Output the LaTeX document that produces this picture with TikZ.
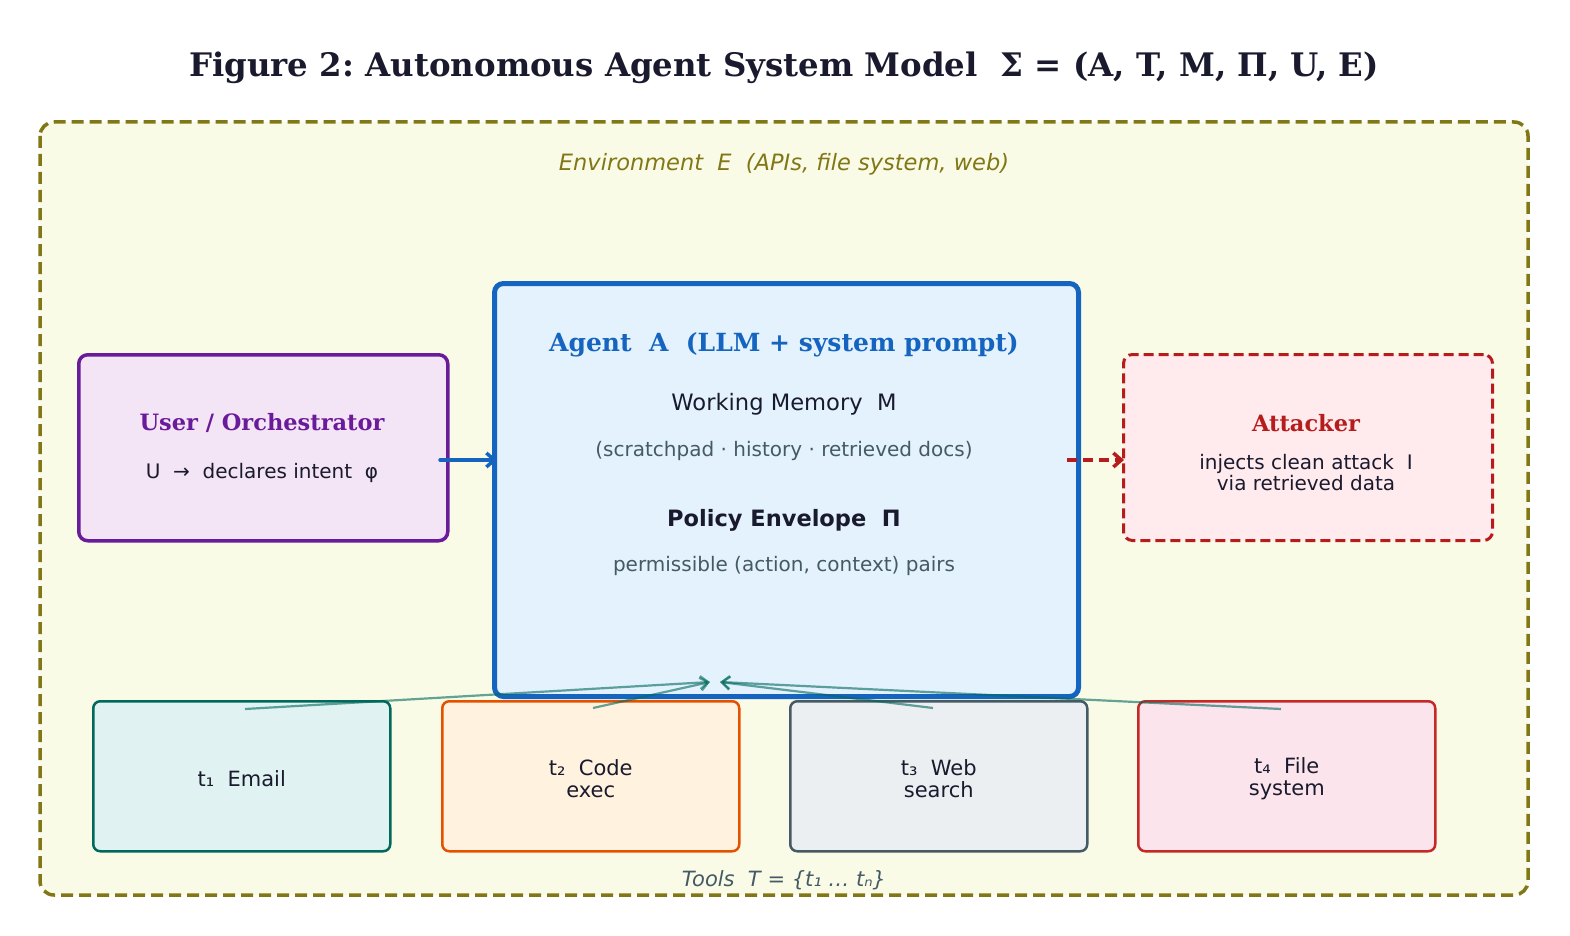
\documentclass[tikz,border=0pt]{standalone}
\usepackage{fontspec}
\setmainfont{DejaVu Serif}
\setsansfont{DejaVu Sans}
\usetikzlibrary{arrows.meta}
\frenchspacing
\definecolor{ink}{HTML}{1A1A2E}
\definecolor{envline}{HTML}{827717}
\definecolor{envfill}{HTML}{F9FBE7}
\definecolor{agline}{HTML}{1565C0}
\definecolor{agfill}{HTML}{E3F2FD}
\definecolor{usline}{HTML}{6A1B9A}
\definecolor{usfill}{HTML}{F3E5F5}
\definecolor{atline}{HTML}{B71C1C}
\definecolor{atfill}{HTML}{FFEBEE}
\definecolor{grey}{HTML}{455A64}
\definecolor{teal}{HTML}{00695C}
\definecolor{tAfill}{HTML}{E0F2F1}
\definecolor{tBline}{HTML}{E65100}
\definecolor{tBfill}{HTML}{FFF3E0}
\definecolor{tCfill}{HTML}{ECEFF1}
\definecolor{tDline}{HTML}{C62828}
\definecolor{tDfill}{HTML}{FCE4EC}
\tikzset{
  boxbase/.style={rounded corners=9pt, inner sep=0pt, anchor=north west},
  toolbox/.style={boxbase, line width=2.5pt, minimum width=297pt, minimum height=150pt, rounded corners=7pt},
  tooltext/.style={font=\sffamily\fontsize{21}{22}\selectfont, text=ink, align=center},
  toolarrow/.style={draw=teal, draw opacity=0.6, line width=2.2pt, -{Straight Barb[length=8pt,width=13pt,line width=2.2pt]}},
}
\begin{document}
\begin{tikzpicture}[x=1pt,y=-1pt]
\useasboundingbox (0,0) rectangle (1570,936);
\fill[white] (0,0) rectangle (1570,936);
% title
\node[font=\bfseries\fontsize{32.4}{36}\selectfont, text=ink] (title) at (784,68) {Figure 2: Autonomous Agent System Model\ \ Σ = (A, T, M, Π, U, E)};
% environment
\draw[envline, fill=envfill, line width=3.5pt, dash pattern=on 12pt off 6pt, rounded corners=14pt] (40,122) rectangle (1528,895);
\node[font=\sffamily\itshape\fontsize{22.5}{26}\selectfont, text=envline] (envlabel) at (784,164) {Environment\ \ E\ \ (APIs, file system, web)};
% agent
\node[boxbase, draw=agline, fill=agfill, line width=5pt, minimum width=584pt, minimum height=413pt] (agent) at (492,281) {};
\node[font=\bfseries\fontsize{25}{29}\selectfont, text=agline] (agtitle) at (784,345) {Agent\ \ A\ \ (LLM + system prompt)};
\node[font=\sffamily\fontsize{22.6}{26}\selectfont, text=ink] (wm) at (784,404) {Working Memory\ \ M};
\node[font=\sffamily\fontsize{20}{24}\selectfont, text=grey] (wmsub) at (784,451) {(scratchpad · history · retrieved docs)};
\node[font=\sffamily\bfseries\fontsize{22.5}{26}\selectfont, text=ink] (pe) at (784,520) {Policy Envelope\ \ Π};
\node[font=\sffamily\fontsize{20}{24}\selectfont, text=grey] (pesub) at (784,566) {permissible (action, context) pairs};
% user
\node[boxbase, draw=usline, fill=usfill, line width=3.5pt, minimum width=369pt, minimum height=186pt] (user) at (77,353) {};
\node[font=\bfseries\fontsize{22.5}{26}\selectfont, text=usline] (ustitle) at (262,423) {User / Orchestrator};
\node[font=\sffamily\fontsize{20}{24}\selectfont, text=ink] (ussub) at (262,473) {U\ \ →\ \ declares intent\ \ φ};
% attacker
\node[boxbase, draw=atline, fill=atfill, line width=3pt, dash pattern=on 10pt off 5pt, minimum width=369pt, minimum height=186pt] (attacker) at (1122,353) {};
\node[font=\bfseries\fontsize{22.5}{26}\selectfont, text=atline] (attitle) at (1306,423) {Attacker};
\node[font=\sffamily\fontsize{20}{21}\selectfont, text=ink, align=center] (atsub) at (1306,473) {injects clean attack\ \ I\\via retrieved data};
% tools
\node[toolbox, draw=teal, fill=tAfill] (t1) at (92,700) {};
\node[toolbox, draw=tBline, fill=tBfill] (t2) at (441,700) {};
\node[toolbox, draw=grey, fill=tCfill] (t3) at (789,700) {};
\node[toolbox, draw=tDline, fill=tDfill] (t4) at (1137,700) {};
\node[tooltext] (t1l) at ([yshift=-2pt]t1.center) {t₁\ \ Email};
\node[tooltext] (t2l) at ([yshift=-2pt]t2.center) {t₂\ \ Code\\exec};
\node[tooltext] (t3l) at ([yshift=-2pt]t3.center) {t₃\ \ Web\\search};
\node[tooltext] (t4l) at ([yshift=-2pt]t4.center) {t₄\ \ File\\system};
\node[font=\sffamily\itshape\fontsize{21}{24}\selectfont, text=grey] (toolslabel) at (784,880) {Tools\ \ T = \{t₁ … tₙ\}};
% connector end points
\coordinate (u0) at (440,460);
\coordinate (u1) at (497,460);
\coordinate (a0) at (1067,460);
\coordinate (a1) at (1124,460);
\coordinate (s1) at (245,709);
\coordinate (s2) at (593,708);
\coordinate (s3) at (933,708);
\coordinate (s4) at (1281,709);
\coordinate (eL) at (710,682);
\coordinate (eR) at (720,682);
% connectors
\draw[agline, line width=3.5pt, line cap=round, -{Straight Barb[length=8pt,width=14pt,line width=3.5pt]}] (u0) -- (u1);
\draw[atline, line width=3.5pt, dash pattern=on 10pt off 6pt, -{Straight Barb[length=8pt,width=14pt,line width=3.5pt]}] (a0) -- (a1);
\draw[toolarrow] (s1) -- (eL);
\draw[toolarrow] (s2) -- (eL);
\draw[toolarrow] (s3) -- (eR);
\draw[toolarrow] (s4) -- (eR);
\end{tikzpicture}
\end{document}
